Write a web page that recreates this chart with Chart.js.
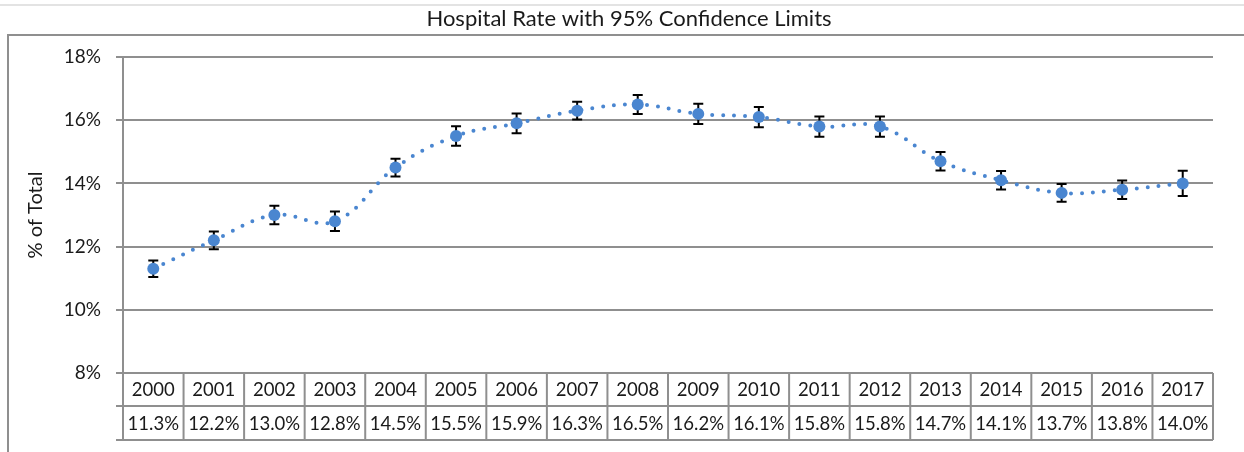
<!DOCTYPE html>
<html>
<head>
<meta charset="utf-8">
<script src="https://cdn.jsdelivr.net/npm/chart.js@4"></script>
<style>
  html, body { margin: 0; padding: 0; background: #fff; }
  #wrap { width: 1244px; height: 452px; }
</style>
</head>
<body>
<div id="wrap"><canvas id="rateChart" width="1244" height="452"></canvas></div>
<script>
var chartTitle = "Hospital Rate with 95% Confidence Limits";
var years = ["2000", "2001", "2002", "2003", "2004", "2005", "2006", "2007", "2008",
   "2009", "2010", "2011", "2012", "2013", "2014", "2015", "2016", "2017"];
var rates = [11.3, 12.2, 13.0, 12.8, 14.5, 15.5, 15.9, 16.3, 16.5,
   16.2, 16.1, 15.8, 15.8, 14.7, 14.1, 13.7, 13.8, 14.0];
var lowerCL = [11.04, 11.92, 12.71, 12.49, 14.22, 15.19, 15.59, 16.02, 16.20,
   15.88, 15.78, 15.48, 15.48, 14.41, 13.81, 13.42, 13.51, 13.60];
var upperCL = [11.56, 12.48, 13.29, 13.11, 14.78, 15.81, 16.21, 16.58, 16.80,
   16.52, 16.42, 16.12, 16.12, 14.99, 14.39, 13.98, 14.09, 14.40];
var yTicks = [8, 10, 12, 14, 16, 18];

var FONT = "Lato, 'Noto Sans', sans-serif";
var GRID = "#8f8f8f";

// frame lines + title, like the excel chart box
var framePlugin = {
   id: "frame",
   beforeDraw: function (chart) {
      var c = chart.ctx;
      c.save();
      c.fillStyle = "#fff";
      c.fillRect(0, 0, chart.width, chart.height);
      c.strokeStyle = "#e3e3e3";
      c.lineWidth = 2;
      c.beginPath();
      c.moveTo(0, 5);
      c.lineTo(chart.width, 5);
      c.stroke();
      c.strokeStyle = GRID;
      c.beginPath();
      c.moveTo(8, 452);
      c.lineTo(8, 35);
      c.lineTo(chart.width, 35);
      c.stroke();
      c.fillStyle = "#1a1a1a";
      c.font = "22px " + FONT;
      c.textAlign = "center";
      c.textBaseline = "middle";
      c.fillText(chartTitle, 629, 19);
      c.restore();
   },
};

// 95% confidence limits, drawn under the markers
var errorBarPlugin = {
   id: "errorBars",
   beforeDatasetsDraw: function (chart) {
      var c = chart.ctx;
      var x = chart.scales.x;
      var y = chart.scales.y;
      c.save();
      c.strokeStyle = "#000";
      c.lineWidth = 2;
      for (var i = 0; i < years.length; i++) {
         var px = x.getPixelForValue(i);
         var top = y.getPixelForValue(upperCL[i]);
         var bot = y.getPixelForValue(lowerCL[i]);
         c.beginPath();
         c.moveTo(px, top);
         c.lineTo(px, bot);
         c.moveTo(px - 5, top);
         c.lineTo(px + 5, top);
         c.moveTo(px - 5, bot);
         c.lineTo(px + 5, bot);
         c.stroke();
      }
      c.restore();
   },
};

// data table under the plot
var tablePlugin = {
   id: "dataTable",
   afterDraw: function (chart) {
      var c = chart.ctx;
      var x = chart.scales.x;
      var area = chart.chartArea;
      var row1 = area.bottom;
      var row2 = row1 + 33;
      var row3 = row2 + 34;
      var half = (x.getPixelForValue(1) - x.getPixelForValue(0)) / 2;
      c.save();
      c.strokeStyle = GRID;
      c.lineWidth = 2;
      c.beginPath();
      c.moveTo(area.left - 7, row2);
      c.lineTo(area.right, row2);
      c.moveTo(area.left - 7, row3);
      c.lineTo(area.right, row3);
      c.moveTo(area.left, row1);
      c.lineTo(area.left, row3);
      for (var i = 0; i < years.length; i++) {
         var edge = x.getPixelForValue(i) + half;
         c.moveTo(edge, row1);
         c.lineTo(edge, row3);
      }
      c.stroke();
      c.fillStyle = "#1a1a1a";
      c.font = "18.5px " + FONT;
      c.textAlign = "center";
      c.textBaseline = "middle";
      for (var j = 0; j < years.length; j++) {
         var px = x.getPixelForValue(j);
         c.fillText(years[j], px, (row1 + row2) / 2 + 1);
         c.fillText(rates[j].toFixed(1) + "%", px, (row2 + row3) / 2 + 1);
      }
      c.restore();
   },
};

var ctx = document.getElementById("rateChart").getContext("2d");
var chart = new Chart(ctx, {
   type: "line",
   data: {
      labels: years,
      datasets: [
         {
            label: "Hospital Rate",
            data: rates,
            borderColor: "#4a86d0",
            backgroundColor: "#4a86d0",
            borderWidth: 4,
            borderDash: [0, 11],
            borderCapStyle: "round",
            tension: 0.4,
            pointRadius: 6,
            pointBorderWidth: 0,
            pointBackgroundColor: "#4a86d0",
         },
      ],
   },
   options: {
      responsive: false,
      animation: false,
      layout: { padding: { left: 8, right: 31, top: 57, bottom: 79 } },
      plugins: {
         legend: { display: false },
         tooltip: { enabled: false },
         title: { display: false },
      },
      scales: {
         x: {
            display: false,
            offset: true,
         },
         y: {
            min: 8,
            max: 18,
            afterBuildTicks: function (scale) {
               scale.ticks = yTicks.map(function (v) { return { value: v }; });
            },
            afterFit: function (scale) {
               scale.width = 115;
            },
            ticks: {
               color: "#1a1a1a",
               padding: 15,
               font: { family: FONT, size: 19 },
               callback: function (v) { return v + "%"; },
            },
            grid: {
               color: GRID,
               lineWidth: 2,
               tickLength: 7,
            },
            border: { color: GRID, width: 2 },
            title: {
               display: true,
               text: "% of Total",
               color: "#1a1a1a",
               font: { family: FONT, size: 20 },
               padding: { top: 16, bottom: 0 },
            },
         },
      },
   },
   plugins: [framePlugin, errorBarPlugin, tablePlugin],
});
</script>
</body>
</html>
